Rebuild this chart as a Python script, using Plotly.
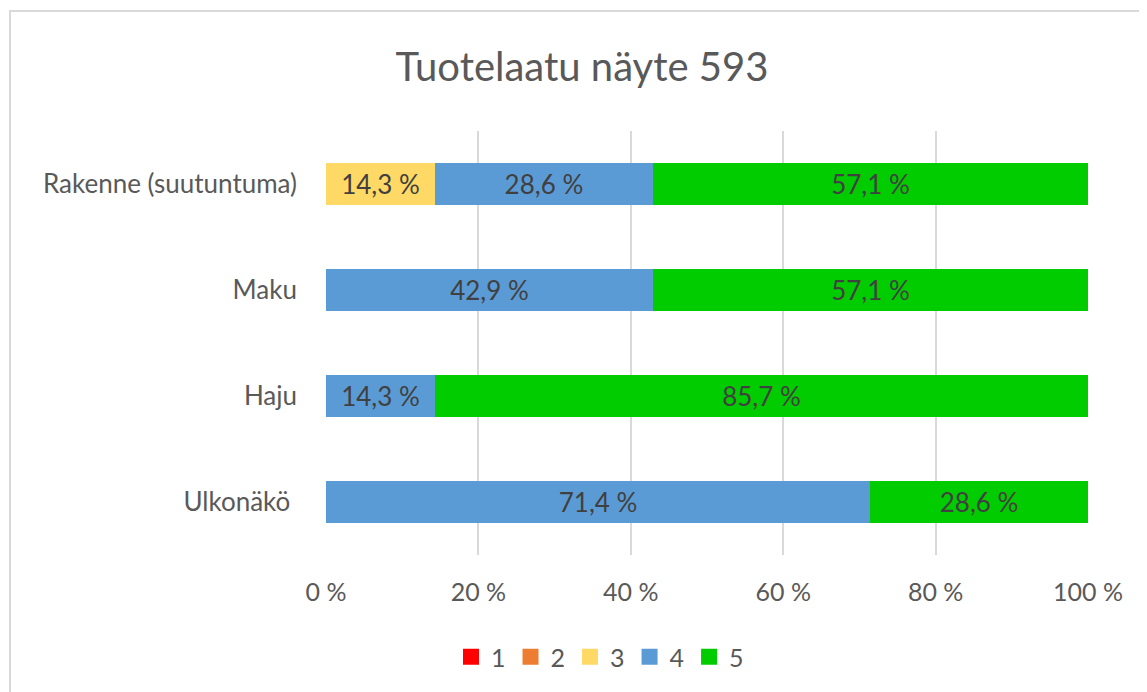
import plotly.graph_objects as go

categories = ["Rakenne (suutuntuma)", "Maku", "Haju", "Ulkonäkö\u00a0"]
series_names = ["1", "2", "3", "4", "5"]
s1 = [0, 0, 0, 0]
s2 = [0, 0, 0, 0]
s3 = [14.3, 0, 0, 0]
s4 = [28.6, 42.9, 14.3, 71.4]
s5 = [57.1, 57.1, 85.7, 28.6]
tick_vals = [0, 20, 40, 60, 80, 100]
tick_text = ["0 %", "20 %", "40 %", "60 %", "80 %", "100 %"]
title_text = "Tuotelaatu näyte 593"

colors = ["#FF0000", "#ED7D31", "#FFD966", "#5B9BD5", "#00CC00"]
FONT = "Lato, Open Sans, sans-serif"

def fmt(v):
    return (f"{v:.1f}".replace(".", ",") + " %") if v > 0 else ""

fig = go.Figure()
for name, vals, col in zip(series_names, [s1, s2, s3, s4, s5], colors):
    fig.add_trace(go.Bar(
        y=categories, x=vals, name=name, orientation="h",
        marker=dict(color=col, line=dict(width=0)),
        text=[fmt(v) for v in vals], textposition="inside",
        insidetextanchor="middle", constraintext="none",
        textfont=dict(family=FONT, size=26, color="#404040"),
        hoverinfo="x+y", showlegend=False, legendgroup=name,
    ))
# legend entries with larger square swatches
for name, col in zip(series_names, colors):
    fig.add_trace(go.Scatter(
        x=[None], y=[None], mode="markers", name=name, legendgroup=name,
        marker=dict(symbol="square", size=17, color=col), showlegend=True,
    ))

# page has an 8px body margin; figure coords = page coords - 8
OFF = 8
W, H = 1147, 692
L, R, T, B = 326 - OFF, 59 + OFF, 131 - OFF, 137 + OFF
pw, ph = W - L - R, H - T - B

def px_x(p):
    return (p - OFF - L) / pw

def px_y(p):
    return (H - B - (p - OFF)) / ph

fig.update_layout(
    width=W, height=H,
    barmode="stack", bargap=0.6,
    margin=dict(l=L, r=R, t=T, b=B),
    paper_bgcolor="white", plot_bgcolor="white",
    title=dict(text=title_text, x=(582 - OFF) / W, xanchor="center",
               y=1 - (67 - OFF) / H, yanchor="middle",
               font=dict(family=FONT, size=40, color="#595959")),
    xaxis=dict(range=[0, 100], tickvals=tick_vals, ticktext=tick_text,
               showgrid=True, gridcolor="#D9D9D9", gridwidth=1.5, zeroline=False,
               showline=False, ticks="", ticklabelstandoff=20,
               tickfont=dict(family=FONT, size=25, color="#595959")),
    yaxis=dict(autorange="reversed", showgrid=False, showline=False, ticks="",
               ticklabelstandoff=28, type="category",
               tickfont=dict(family=FONT, size=26, color="#595959")),
    legend=dict(orientation="h", x=px_x(451), xanchor="left", y=px_y(657), yanchor="middle",
                font=dict(family=FONT, size=25, color="#595959"), traceorder="normal",
                itemwidth=30, tracegroupgap=0),
    showlegend=True,
    shapes=[dict(type="rect", xref="paper", yref="paper",
                 x0=px_x(10), x1=px_x(1200), y0=px_y(750), y1=px_y(11),
                 line=dict(color="#D9D9D9", width=2), layer="below")],
)

fig.write_html("out.html")
